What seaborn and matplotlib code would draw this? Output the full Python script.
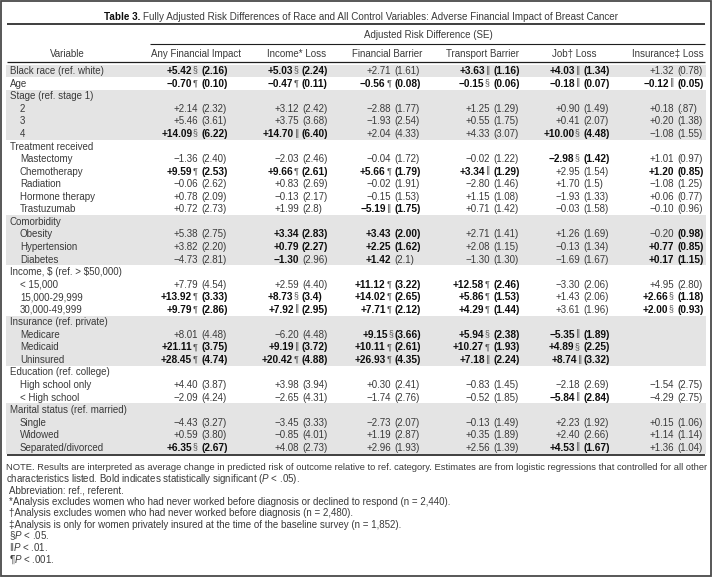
import numpy as np
import pandas as pd
import matplotlib
matplotlib.use("Agg")
import matplotlib.pyplot as plt
import matplotlib.transforms as mtransforms
from matplotlib import font_manager as fm
from matplotlib.colors import ListedColormap
import seaborn as sns

# ---------------- data ----------------
title_bold = "Table 3."
title_rest = ("Fully Adjusted Risk Differences of Race and All Control Variables: "
              "Adverse Financial Impact of Breast Cancer")
group_header = "Adjusted Risk Difference (SE)"
variable_header = "Variable"
columns = ["Any Financial Impact", "Income* Loss", "Financial Barrier",
           "Transport Barrier", "Job\u2020 Loss", "Insurance\u2021 Loss"]

variables = ["Black race (ref. white)", "Age", "Stage (ref. stage 1)", "2", "3", "4",
             "Treatment received", "Mastectomy", "Chemotherapy", "Radiation",
             "Hormone therapy", "Trastuzumab", "Comorbidity", "Obesity", "Hypertension",
             "Diabetes", "Income, $ (ref. > $50,000)", "< 15,000", "15,000-29,999",
             "30,000-49,999", "Insurance (ref. private)", "Medicare", "Medicaid",
             "Uninsured", "Education (ref. college)", "High school only", "< High school",
             "Marital status (ref. married)", "Single", "Widowed", "Separated/divorced"]
indent_level = [0, 0, 0, 1, 1, 1, 0, 1, 1, 1, 1, 1, 0, 1, 1, 1, 0, 1, 1, 1,
                0, 1, 1, 1, 0, 1, 1, 0, 1, 1, 1]
shaded = [1, 0, 1, 1, 1, 1, 0, 0, 0, 0, 0, 0, 1, 1, 1, 1, 0, 0, 0, 0,
          1, 1, 1, 1, 0, 0, 0, 1, 1, 1, 1]

any_impact = ["+5.42§ (2.16)", "−0.70¶ (0.10)", None, "+2.14 (2.32)", "+5.46 (3.61)",
              "+14.09§ (6.22)", None, "−1.36 (2.40)", "+9.59¶ (2.53)", "−0.06 (2.62)",
              "+0.78 (2.09)", "+0.72 (2.73)", None, "+5.38 (2.75)", "+3.82 (2.20)",
              "−4.73 (2.81)", None, "+7.79 (4.54)", "+13.92¶ (3.33)", "+9.79¶ (2.86)",
              None, "+8.01 (4.48)", "+21.11¶ (3.75)", "+28.45¶ (4.74)", None,
              "+4.40 (3.87)", "−2.09 (4.24)", None, "−4.43 (3.27)", "+0.59 (3.80)",
              "+6.35§ (2.67)"]
any_bold = ["B", "B", None, "", "", "B", None, "", "B", "", "", "", None, "", "", "",
            None, "", "B", "B", None, "", "B", "B", None, "", "", None, "", "", "B"]

income_loss = ["+5.03§ (2.24)", "−0.47¶ (0.11)", None, "+3.12 (2.42)", "+3.75 (3.68)",
               "+14.70‖ (6.40)", None, "−2.03 (2.46)", "+9.66¶ (2.61)", "+0.83 (2.69)",
               "−0.13 (2.17)", "+1.99 (2.8)", None, "+3.34 (2.83)", "+0.79 (2.27)",
               "−1.30 (2.96)", None, "+2.59 (4.40)", "+8.73§ (3.4)", "+7.92‖ (2.95)",
               None, "−6.20 (4.48)", "+9.19‖ (3.72)", "+20.42¶ (4.88)", None,
               "+3.98 (3.94)", "−2.65 (4.31)", None, "−3.45 (3.33)", "−0.85 (4.01)",
               "+4.08 (2.73)"]
income_bold = ["B", "B", None, "", "", "B", None, "", "B", "", "", "", None, "B", "B", "E",
               None, "", "B", "B", None, "", "B", "B", None, "", "", None, "", "", ""]

financial_barrier = ["+2.71 (1.61)", "−0.56¶ (0.08)", None, "−2.88 (1.77)", "−1.93 (2.54)",
                     "+2.04 (4.33)", None, "−0.04 (1.72)", "+5.66¶ (1.79)", "−0.02 (1.91)",
                     "−0.15 (1.53)", "−5.19‖ (1.75)", None, "+3.43 (2.00)", "+2.25 (1.62)",
                     "+1.42 (2.1)", None, "+11.12¶ (3.22)", "+14.02¶ (2.65)", "+7.71¶ (2.12)",
                     None, "+9.15§(3.66)", "+10.11¶ (2.61)", "+26.93¶ (4.35)", None,
                     "+0.30 (2.41)", "−1.74 (2.76)", None, "−2.73 (2.07)", "+1.19 (2.87)",
                     "+2.96 (1.93)"]
financial_bold = ["", "B", None, "", "", "", None, "", "B", "", "", "B", None, "B", "B", "E",
                  None, "B", "B", "B", None, "B", "B", "B", None, "", "", None, "", "", ""]

transport_barrier = ["+3.63‖ (1.16)", "−0.15§ (0.06)", None, "+1.25 (1.29)", "+0.55 (1.75)",
                     "+4.33 (3.07)", None, "−0.02 (1.22)", "+3.34‖ (1.29)", "−2.80 (1.46)",
                     "+1.15 (1.08)", "+0.71 (1.42)", None, "+2.71 (1.41)", "+2.08 (1.15)",
                     "−1.30 (1.30)", None, "+12.58¶ (2.46)", "+5.86¶ (1.53)", "+4.29¶ (1.44)",
                     None, "+5.94§ (2.38)", "+10.27¶ (1.93)", "+7.18‖ (2.24)", None,
                     "−0.83 (1.45)", "−0.52 (1.85)", None, "−0.13 (1.49)", "+0.35 (1.89)",
                     "+2.56 (1.39)"]
transport_bold = ["B", "B", None, "", "", "", None, "", "B", "", "", "", None, "", "", "",
                  None, "B", "B", "B", None, "B", "B", "B", None, "", "", None, "", "", ""]

job_loss = ["+4.03‖ (1.34)", "−0.18‖ (0.07)", None, "+0.90 (1.49)", "+0.41 (2.07)",
            "+10.00§ (4.48)", None, "−2.98§ (1.42)", "+2.95 (1.54)", "+1.70 (1.5)",
            "−1.93 (1.33)", "−0.03 (1.58)", None, "+1.26 (1.69)", "−0.13 (1.34)",
            "−1.69 (1.67)", None, "−3.30 (2.06)", "+1.43 (2.06)", "+3.61 (1.96)",
            None, "−5.35‖ (1.89)", "+4.89§ (2.25)", "+8.74‖(3.32)", None,
            "−2.18 (2.69)", "−5.84‖ (2.84)", None, "+2.23 (1.92)", "+2.40 (2.66)",
            "+4.53‖ (1.67)"]
job_bold = ["B", "B", None, "", "", "B", None, "B", "", "", "", "", None, "", "", "",
            None, "", "", "", None, "B", "B", "B", None, "", "B", None, "", "", "B"]

insurance_loss = ["+1.32 (0.78)", "−0.12‖ (0.05)", None, "+0.18 (.87)", "+0.20 (1.38)",
                  "−1.08 (1.55)", None, "+1.01 (0.97)", "+1.20 (0.85)", "−1.08 (1.25)",
                  "+0.06 (0.77)", "−0.10 (0.96)", None, "−0.20 (0.98)", "+0.77 (0.85)",
                  "+0.17 (1.15)", None, "+4.95 (2.80)", "+2.66§ (1.18)", "+2.00§ (0.93)",
                  None, None, None, None, None,
                  "−1.54 (2.75)", "−4.29 (2.75)", None, "+0.15 (1.06)", "+1.14 (1.14)",
                  "+1.36 (1.04)"]
insurance_bold = ["", "B", None, "", "", "", None, "", "B", "", "", "", None, "S", "B", "B",
                  None, "", "B", "B", None, None, None, None, None, "", "", None, "", "", ""]

footnotes = [
    "NOTE. Results are interpreted as average change in predicted risk of outcome relative to "
    "ref. category. Estimates are from logistic regressions that controlled for all other",
    "characteristics listed. Bold indicates statistically significant ($\\mathit{P}$ < .05).",
    "Abbreviation: ref., referent.",
    "*Analysis excludes women who had never worked before diagnosis or declined to respond (n = 2,440).",
    "\u2020Analysis excludes women who had never worked before diagnosis (n = 2,480).",
    "\u2021Analysis is only for women privately insured at the time of the baseline survey (n = 1,852).",
    "§$\\mathit{P}$ < .05.",
    "\u2016$\\mathit{P}$ < .01.",
    "¶$\\mathit{P}$ < .001.",
]

# ---------------- style ----------------
sns.set_theme(style="white")
LIB = ["Liberation Sans"]
BODY = ["Liberation Sans", "DejaVu Sans"]
plt.rcParams["font.family"] = BODY
plt.rcParams["mathtext.fontset"] = "custom"
plt.rcParams["mathtext.rm"] = "Liberation Sans"
plt.rcParams["mathtext.it"] = "Liberation Sans:italic"
plt.rcParams["mathtext.bf"] = "Liberation Sans:bold"
_names = {f.name for f in fm.fontManager.ttflist}
NARROW = (["Liberation Sans Narrow"] if "Liberation Sans Narrow" in _names else LIB)

REG_C = "#3a3a3a"
BOLD_C = "#0d0d0d"
LINE_C = "#1e1e1e"
SHADE_C = "#e4e4e4"
FS = 7.0
FS_B = 7.3

W, H = 712, 577
fig = plt.figure(figsize=(W / 100, H / 100), dpi=100)
fig.patch.set_facecolor("white")

body_top, row_h = 64.5, 12.55
n_rows = len(variables)
body_bot = body_top + n_rows * row_h
x_left, x_right = 6, 706

# shaded row bands drawn as a seaborn heatmap
ax_body = fig.add_axes([x_left / W, 1 - body_bot / H, (x_right - x_left) / W,
                        (body_bot - body_top) / H])
shade_df = pd.DataFrame({"shade": shaded}, index=variables)
sns.heatmap(shade_df, ax=ax_body, cmap=ListedColormap(["#ffffff", SHADE_C]),
            vmin=0, vmax=1, cbar=False, xticklabels=False, yticklabels=False)
ax_body.axis("off")

# overlay axes in pixel coordinates
ax = fig.add_axes([0, 0, 1, 1])
ax.set_xlim(0, W)
ax.set_ylim(H, 0)
ax.axis("off")
row_tr = mtransforms.blended_transform_factory(ax.transData, ax_body.transData)
BASE = 3.5 / row_h  # baseline offset in row units

renderer = fig.canvas.get_renderer()


def twidth(t):
    return t.get_window_extent(renderer=renderer).width


def put(x, y, s, bold=False, ha="left", size=None, family=None, color=None,
        transform=None, math=False):
    if size is None:
        size = FS_B if bold else FS
    return ax.text(x, y, s, ha=ha, va="baseline", fontsize=size,
                   fontweight="bold" if bold else "normal",
                   color=color if color else (BOLD_C if bold else REG_C),
                   family=family if family else LIB,
                   transform=transform if transform else ax.transData,
                   parse_math=math)


# border
ax.add_patch(plt.Rectangle((0.9, 0.9), W - 1.8, H - 1.8, fill=False,
                           edgecolor="#4a4a4a", lw=1.3))

# title (two runs, fitted to width and centered)
title_y = 19.5
t1 = put(0, title_y, title_bold, bold=True, family=NARROW, size=7.5)
t2 = put(0, title_y, title_rest, family=NARROW, size=7.5)
w = twidth(t1) + twidth(t2) + 3
k = 516 / w
t1.set_fontsize(7.5 * k)
t2.set_fontsize(7.5 * k)
w1, w2 = twidth(t1), twidth(t2)
x0 = 361 - (w1 + 3 + w2) / 2
t1.set_x(x0)
t2.set_x(x0 + w1 + 3)

ax.plot([x_left + 1, x_right - 1], [24.0, 24.0], color=LINE_C, lw=1.2,
        solid_capstyle="butt")

# column group header
put(428, 37.5, group_header, ha="center")
ax.plot([150, x_right - 1], [43.5, 43.5], color=LINE_C, lw=0.8, solid_capstyle="butt")

# column headers
hdr_y = 57.0
header_cx = [196, 297, 387, 482, 574, 668]
put(67, hdr_y, variable_header, ha="center")
for cx, name in zip(header_cx, columns):
    put(cx, hdr_y, name, ha="center", family=BODY)
ax.plot([x_left + 1, x_right - 1], [62.0, 62.0], color=LINE_C, lw=0.9,
        solid_capstyle="butt")

# row labels
for i, (lab, lvl) in enumerate(zip(variables, indent_level)):
    put(9.5 if lvl == 0 else 20.0, i + 0.5 + BASE, lab, transform=row_tr)

# value cells
se_x = [201.0, 302.0, 394.5, 493.0, 583.0, 677.0]
col_cells = [any_impact, income_loss, financial_barrier, transport_barrier,
             job_loss, insurance_loss]
col_bold = [any_bold, income_bold, financial_bold, transport_bold, job_bold,
            insurance_bold]
MARKS = "§‖¶"
mark_family = {"§": LIB, "¶": LIB, "‖": ["DejaVu Sans"]}
mark_size = {"§": 6.2, "¶": 6.6, "‖": 6.2}
mark_raise = {"§": 1.6 / row_h, "¶": 1.3 / row_h, "‖": 1.4 / row_h}
mark_w = {}
for m in MARKS:
    tm = put(0, 0, m, family=mark_family[m], size=mark_size[m])
    mark_w[m] = twidth(tm)
    tm.remove()


def split_cell(s):
    k = s.index("(")
    est = s[:k]
    spaced = est.endswith(" ")
    est = est.rstrip()
    mark = ""
    if est and est[-1] in MARKS:
        mark = est[-1]
        est = est[:-1]
    return est, mark, s[k:], spaced


for j in range(len(columns)):
    for i, (cell, flag) in enumerate(zip(col_cells[j], col_bold[j])):
        if cell is None:
            continue
        est, mark, se, spaced = split_cell(cell)
        y = i + 0.5 + BASE
        put(se_x[j], y, se, bold=flag in ("B", "S"), transform=row_tr)
        xe = se_x[j] - (3.2 if spaced else 0.6)
        if mark:
            xe -= mark_w[mark]
            put(xe, y - mark_raise[mark], mark, family=mark_family[mark],
                size=mark_size[mark], transform=row_tr, color="#505050")
            xe -= 0.6
        put(xe, y, est, bold=flag in ("B", "E"), ha="right", transform=row_tr)

ax.plot([x_left + 1, x_right - 1], [body_bot + 1.2, body_bot + 1.2], color=LINE_C,
        lw=1.2, solid_capstyle="butt")

# footnotes
fn_y0, fn_dy = 470.0, 11.55
for k_, line in enumerate(footnotes):
    xx = 5.5 if k_ < 2 else 9.0
    fam = BODY if "\u2016" in line else LIB
    t = put(xx, fn_y0 + k_ * fn_dy, line, math=True, family=fam)
    if k_ == 0:
        t.set_fontsize(FS * 700 / twidth(t))

fig.savefig("out.png", dpi=100, facecolor="white")
